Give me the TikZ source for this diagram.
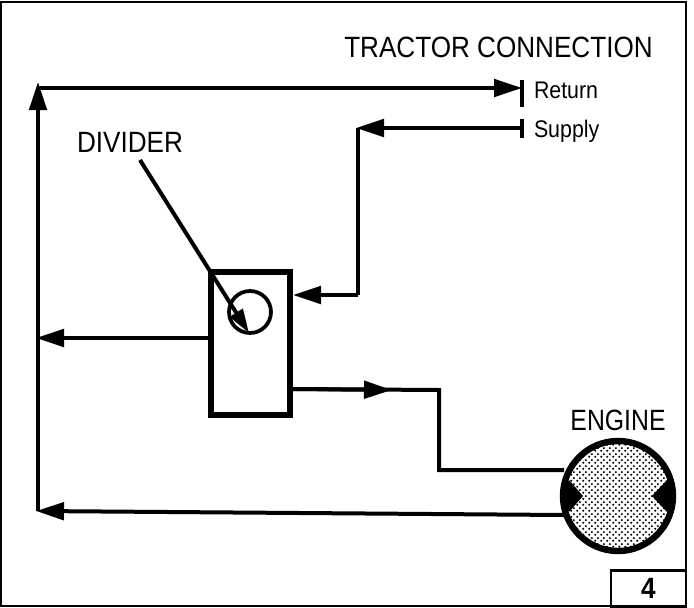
\documentclass[tikz,border=0pt]{standalone}
\usepackage{fontspec}
\usepackage{tikz}
\usetikzlibrary{arrows.meta,patterns}
\setmainfont[FakeStretch=0.89]{Liberation Sans}

\pgfdeclarepatternformonly{enginedots}{\pgfqpoint{-1pt}{-1pt}}{\pgfqpoint{3.2pt}{3.2pt}}{\pgfqpoint{4.2pt}{4.2pt}}{
    \pgfpathcircle{\pgfqpoint{0pt}{0pt}}{0.85pt}
    \pgfpathcircle{\pgfqpoint{2.1pt}{2.1pt}}{0.85pt}
    \pgfusepath{fill}
}

\begin{document}
\begin{tikzpicture}[x = 0.75pt, y = -0.75pt, line width = 3pt,
                      flow/.style = {-{Triangle[length=21pt, width=13pt]}},
                      leader/.style = {line width = 3pt, -{Triangle[length=18pt, width=11pt]}},
                      bar/.style = {line width = 3pt},
                      big/.style = {font = \fontsize{22}{24}\selectfont, inner sep = 0pt},
                      small/.style = {font = \fontsize{18}{20}\selectfont, inner sep = 0pt},
                      unit/.style = {draw, line width = 4.8pt, inner sep = 0pt}]
    \useasboundingbox (0, 0) rectangle (694, 608);

    % outline and page number
    \draw [line width = 1.6pt] (1, 606) -- (1, 2) -- (686, 2) -- (686, 606) -- cycle;
    \node [draw, line width = 1.6pt, minimum width = 56.25pt, minimum height = 27pt, inner sep = 0pt,
           font = \bfseries\fontsize{22}{24}\selectfont] (page) at (648.5, 588.5) {4};

    % texts
    \node [big] (tractor) at (498.5, 47) {TRACTOR CONNECTION};
    \node [big] (dividertext) at (130, 142) {DIVIDER};
    \node [big, xscale = 0.95] (enginetext) at (618, 420) {ENGINE};
    \node [small, anchor = west] (return) at (532, 90) {Return};
    \node [small, anchor = west] (supply) at (532, 131) {Supply};

    % units
    \node [unit, minimum width = 59.25pt, minimum height = 107.25pt] (divider) at (250.5, 343.5) {};
    \node [draw, circle, line width = 2.8pt, minimum size = 31.5pt, inner sep = 0pt] (valve) at (250, 312) {};
    \node [unit, circle, minimum size = 82.5pt, preaction = {fill = white}, pattern = enginedots] (engine) at (618, 496) {};
    \fill (569, 480) -- (583, 496) -- (569, 512) -- (561, 496) -- cycle;
    \fill (667, 480) -- (652, 496) -- (667, 512) -- (675, 496) -- cycle;

    % connection ends
    \coordinate (returnend) at (522, 88);
    \coordinate (supplyend) at (522, 128);
    \coordinate (returntop) at (522, 80);
    \coordinate (returnbot) at (522, 107);
    \coordinate (supplytop) at (522, 119);
    \coordinate (supplybot) at (522, 138);
    \draw [bar] (returntop) -- (returnbot);
    \draw [bar] (supplytop) -- (supplybot);

    % corners
    \coordinate (topleft) at (38, 88);
    \coordinate (topcorner) at (38, 82);
    \coordinate (midleft) at (36, 338);
    \coordinate (botleft) at (36, 511);
    \coordinate (lowleft) at (38, 511);
    \coordinate (supplycorner) at (356, 128);
    \coordinate (supplydown) at (358, 128);
    \coordinate (supplyturn) at (358, 295);
    \coordinate (inlet) at (293, 295);
    \coordinate (outlet) at (293, 389);
    \coordinate (outletarrow) at (392, 390);
    \coordinate (outletturn) at (439, 390);
    \coordinate (engineturn) at (439, 470);
    \coordinate (enginein) at (564, 470);
    \coordinate (engineout) at (564, 515);
    \coordinate (leaderstart) at (140, 160);
    \coordinate (leaderend) at (249, 333);
    \coordinate (dividerout) at (209, 338);

    \draw [flow] (lowleft) -- (topcorner);
    \draw [flow] (topleft) -- (returnend);
    \draw [flow] (supplyend) -- (supplycorner);
    \draw (supplydown) -- (supplyturn);
    \draw [flow] (supplyturn) -- (inlet);
    \draw [flow] (dividerout) -- (midleft);
    \draw [flow] (outlet) -- (outletarrow);
    \draw (outlet) -- (outletturn) -- (engineturn) -- (enginein);
    \draw [flow] (engineout) -- (botleft);
    \draw [leader] (leaderstart) -- (leaderend);
\end{tikzpicture}
\end{document}
